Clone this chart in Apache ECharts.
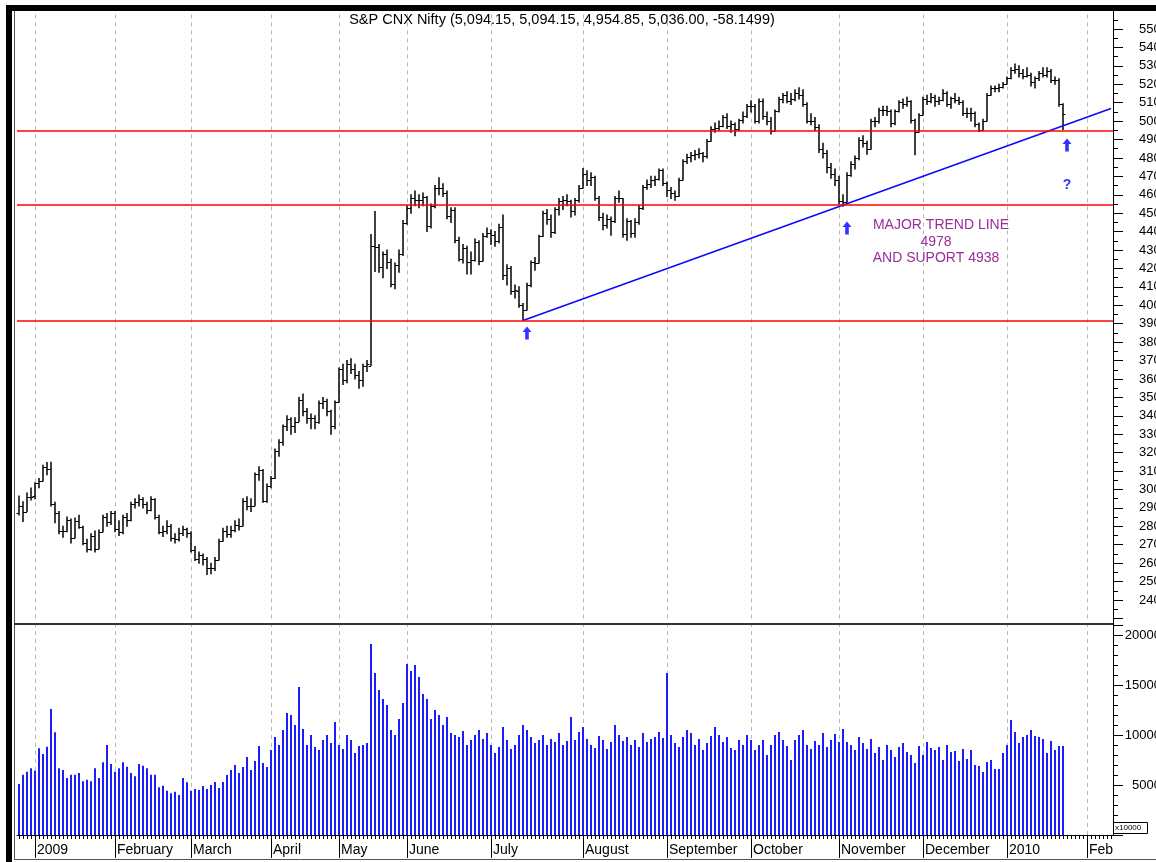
<!DOCTYPE html>
<html><head><meta charset="utf-8">
<script src="https://cdn.jsdelivr.net/npm/echarts@6/dist/echarts.min.js"></script>
<style>html,body{margin:0;padding:0;background:#fff}#c{width:1156px;height:862px}</style>
</head><body><div id="c"></div>
<script>
// ---- categories (trading-day slots per month) ----
const monthNames = ['', '2009', 'February', 'March', 'April', 'May', 'June', 'July', 'August', 'September', 'October', 'November', 'December', '2010', 'Feb'];
const monthSlots = [4, 20, 19, 20, 17, 17, 21, 23, 21, 21, 22, 21, 21, 20, 7];

// ---- price OHLC (one line per month) ----
const opens = [
 2870,2910,2880,2960,
 2963,3033,3046,3121,3112,2920,2873,2774,2774,2835,2736,2829,2796,2707,2678,2745,2678,2771,2849,2823,
 2874,2784,2767,2848,2836,2920,2934,2947,2919,2889,2948,2848,2770,2776,2803,2736,2733,2762,2785,
 2763,2674,2622,2645,2620,2573,2573,2617,2719,2777,2758,2779,2807,2802,2939,2909,2912,3082,3108,2940,
 3020,3060,3211,3256,3342,3384,3344,3369,3484,3428,3386,3387,3369,3471,3480,3424,3343,
 3474,3654,3593,3683,3655,3622,3592,3671,3673,4323,4318,4210,4276,4237,4117,4217,4277,
 4449,4529,4582,4573,4572,4586,4429,4539,4638,4637,4611,4485,4517,4356,4251,4313,4235,4247,4343,4241,4375,
 4390,4383,4350,4424,4165,4202,4078,4080,4004,3974,4111,4233,4231,4374,4502,4469,4398,4523,4568,4572,4564,4513,4571,
 4636,4711,4681,4694,4585,4481,4437,4471,4457,4580,4580,4388,4458,4394,4453,4528,4642,4659,4680,4688,4732,
 4662,4625,4608,4593,4680,4782,4805,4814,4819,4829,4808,4892,4958,4965,4976,5020,4972,4986,4959,5006,5030,
 5084,5083,5003,5108,5027,5002,4945,5054,5118,5143,5110,5120,5150,5142,5093,4998,5003,4970,4847,4826,4750,4711,
 4680,4564,4563,4710,4765,4797,4898,4881,4847,4998,5000,5058,5062,5054,4989,5053,5103,5092,5108,5005,4941,
 5032,5122,5108,5131,5108,5112,5153,5092,5125,5117,5106,5042,5042,5046,4987,4953,5000,5144,5179,5178,5187,
 5201,5232,5277,5281,5263,5245,5249,5210,5233,5259,5252,5274,5225,5221,5094.15
];
const highs = [
 2965,2934,2981,3008,
 3037,3060,3131,3147,3148,2930,2880,2800,2850,2840,2845,2860,2800,2730,2760,2775,2780,2860,2870,2880,
 2880,2830,2860,2870,2930,2950,2970,2955,2930,2960,2950,2860,2800,2830,2810,2760,2790,2800,2790,
 2770,2690,2660,2650,2630,2600,2630,2730,2790,2800,2800,2830,2840,2950,2960,2950,3090,3123,3108,3030,
 3070,3220,3270,3350,3400,3390,3390,3500,3518,3440,3410,3400,3480,3500,3490,3430,3480,
 3660,3680,3700,3710,3680,3640,3680,3700,4384,4509,4330,4290,4300,4250,4230,4300,4460,
 4540,4600,4620,4600,4610,4590,4550,4650,4693,4660,4620,4530,4530,4370,4330,4320,4290,4360,4350,4390,4420,
 4410,4400,4440,4490,4220,4210,4110,4100,4010,4120,4240,4260,4380,4510,4520,4490,4530,4580,4590,4600,4570,4580,4650,
 4743,4730,4720,4700,4590,4500,4490,4480,4590,4620,4580,4470,4460,4470,4540,4650,4680,4700,4700,4740,4740,
 4670,4640,4620,4690,4790,4820,4830,4840,4850,4830,4900,4970,4990,5000,5030,5040,5000,4990,5010,5050,5090,
 5110,5090,5120,5120,5050,5020,5060,5130,5150,5160,5150,5170,5181,5170,5100,5040,5020,4980,4880,4840,4770,4740,
 4700,4600,4720,4780,4810,4910,4920,4890,5010,5020,5070,5080,5080,5060,5060,5110,5120,5130,5110,5010,5040,
 5130,5140,5150,5140,5130,5170,5160,5130,5150,5130,5110,5070,5070,5050,4990,5010,5150,5190,5190,5200,5210,
 5240,5290,5310,5300,5280,5290,5260,5240,5270,5290,5290,5280,5240,5230,5094.15
];
const lows = [
 2862,2826,2880,2943,
 2950,3010,3046,3080,2910,2820,2760,2740,2770,2710,2736,2790,2700,2660,2670,2660,2678,2771,2800,2810,
 2770,2750,2760,2800,2830,2900,2910,2900,2870,2885,2840,2760,2745,2760,2720,2710,2720,2750,2740,
 2660,2615,2600,2590,2539,2543,2560,2617,2719,2740,2740,2770,2780,2802,2890,2880,2912,3050,2930,2930,
 3010,3060,3180,3240,3320,3300,3310,3369,3400,3360,3330,3330,3360,3440,3400,3300,3330,
 3474,3570,3580,3630,3600,3550,3560,3640,3673,4184,4180,4150,4200,4100,4090,4180,4270,
 4440,4500,4540,4530,4540,4400,4420,4530,4600,4590,4470,4450,4340,4240,4230,4170,4170,4240,4220,4240,4370,
 4330,4320,4340,4140,4110,4060,4040,3990,3918,3974,4100,4190,4230,4374,4440,4370,4390,4490,4520,4540,4480,4490,4560,
 4636,4650,4650,4570,4460,4410,4420,4380,4450,4560,4370,4353,4370,4370,4440,4520,4630,4640,4650,4680,4650,
 4590,4580,4570,4590,4680,4770,4780,4790,4800,4780,4800,4890,4940,4950,4970,4960,4940,4920,4950,4990,5020,
 5050,4990,4990,5010,4980,4930,4945,5050,5100,5100,5090,5110,5120,5080,4990,4980,4950,4830,4800,4720,4690,4650,
 4550,4538,4560,4700,4740,4790,4860,4820,4847,4970,4990,5030,5030,4970,4980,5050,5070,5080,4990,4817,4940,
 5032,5090,5100,5080,5090,5110,5080,5070,5100,5090,5030,5020,5000,4970,4943,4950,5000,5140,5160,5160,5180,
 5200,5230,5260,5240,5230,5240,5190,5180,5220,5240,5240,5210,5200,5080,4954.85
];
const closes = [
 2910,2880,2960,2959,
 3033,3046,3121,3112,2920,2873,2774,2774,2835,2736,2829,2796,2707,2678,2745,2678,2771,2849,2823,2874,
 2784,2767,2848,2836,2920,2934,2947,2919,2889,2948,2848,2770,2776,2803,2736,2733,2762,2785,2763,
 2674,2622,2645,2620,2573,2573,2617,2719,2777,2758,2779,2807,2802,2939,2909,2912,3082,3108,2940,3020,
 3060,3211,3256,3342,3384,3344,3369,3484,3428,3386,3387,3369,3471,3480,3424,3343,3474,
 3654,3593,3683,3655,3622,3592,3671,3680,4323,4318,4210,4276,4237,4117,4217,4277,4449,
 4529,4582,4573,4572,4586,4429,4539,4638,4637,4611,4485,4517,4356,4251,4313,4235,4247,4343,4241,4375,4390,
 4383,4350,4424,4165,4202,4078,4081,4004,3974,4111,4233,4231,4374,4502,4469,4398,4523,4568,4572,4564,4513,4571,4636,
 4711,4681,4694,4585,4481,4437,4471,4457,4580,4580,4388,4458,4394,4453,4528,4642,4659,4680,4688,4732,4662,
 4625,4608,4593,4680,4782,4805,4814,4819,4829,4808,4892,4958,4965,4976,5020,4972,4986,4959,5006,5030,5084,
 5083,5003,5108,5027,5002,4945,5054,5118,5143,5110,5120,5150,5142,5093,4998,5003,4970,4847,4826,4750,4711,4680,
 4564,4563,4710,4765,4797,4898,4881,4847,4998,5000,5058,5062,5054,4989,5053,5103,5092,5108,5005,4941,5032,
 5122,5108,5131,5108,5112,5153,5092,5125,5117,5106,5042,5042,5046,4987,4953,5000,5144,5179,5178,5187,5201,
 5232,5277,5281,5263,5245,5249,5210,5233,5259,5252,5274,5225,5221,5094,5036
];
// ---- volume (x10000) ----
const volumes = [
 5100,6030,6330,6670,
 6430,8670,8100,8830,12600,10270,6670,6500,5700,6030,6030,6200,5370,5530,5370,6670,5700,7270,9000,7100,
 6330,6670,7270,6830,6200,5870,7100,6930,6670,6030,6030,4770,4930,4430,4170,4330,4000,5700,5270,
 4430,4600,4500,4900,4600,5000,5300,4700,5300,6000,6500,7000,6200,6800,7800,6500,7400,8900,7200,6800,
 8500,9800,9000,10500,12200,12000,11000,14800,10600,9000,10000,8800,8500,9500,10000,9200,11300,
 9000,8600,10000,9500,8200,8900,9000,9200,19100,16200,14500,13600,13000,10500,10000,11600,13200,
 17100,16400,17000,15800,14100,13600,11600,12500,12000,11000,11800,10200,10000,9800,10400,9000,9500,10000,10500,9600,10200,
 9000,8200,8800,10800,9500,8600,9000,10000,11000,10500,9800,9200,9500,10000,9000,9600,9300,10200,9000,9400,11800,9500,10300,
 10800,9600,9000,8700,9900,9500,8600,9300,11000,10000,9400,9800,9000,9500,8800,10200,9300,9600,9800,10300,9700,
 16200,10000,9200,8800,9800,10500,10200,9000,9600,8500,9200,9900,10800,10000,9300,9800,8700,8500,9500,9000,10000,
 9500,8500,9000,9500,8000,9000,10000,10300,9500,8900,7500,9500,10000,10500,9000,8600,9400,9000,10200,8800,9500,10100,
 9300,10600,9300,9000,8500,9800,9200,8600,9600,8200,8800,7500,9000,8500,7800,8800,9200,8300,8000,7200,8900,
 8000,9300,8700,8500,8800,7500,9000,8300,8400,7400,8600,7600,8500,7000,6900,6300,7300,7500,6600,6600,8200,
 9000,11500,10300,9200,9800,10000,10500,9900,9800,9600,8200,9400,8500,8900,8900
];
// ---- annotation lines / marks ----
const supportLevels = [4950, 4545, 3915];
const trendLine = [[126, 3918], [273, 5068]];
const arrowPoints = [[127, 3850], [207, 4420], [262, 4870]];
const questionPoint = [[262, 4653]];
const titleText = 'S&P CNX Nifty (5,094.15, 5,094.15, 4,954.85, 5,036.00, -58.1499)';

// ---- build categories ----
const categories = [], labelFor = [], monthStarts = [];
monthNames.forEach((m, k) => {
  for (let j = 0; j < monthSlots[k]; j++) {
    const idx = categories.length;
    categories.push((m || 'Dec 2008') + ' #' + (j + 1));
    labelFor.push(j === 0 ? m : '');
    if (j === 0 && k > 0) monthStarts.push(idx);
  }
});
const startSet = new Set(monthStarts);
const ohlc = closes.map((c, i) => [i, opens[i], highs[i], lows[i], c]);

const FONT = '"Liberation Sans", Arial, sans-serif';
const dashedLines = {
  silent: true, z: 1, symbol: ['none', 'none'], label: { show: false }, animation: false,
  lineStyle: { color: '#b8b8b8', type: [4, 4], width: 1 },
  data: monthStarts.map(i => ({ xAxis: i }))
};
const arrowPath = 'path://M5 0 L10 6 L7 6 L7 14 L3 14 L3 6 L0 6 Z';

const chart = echarts.init(document.getElementById('c'), null, { renderer: 'canvas' });
chart.setOption({
  animation: false,
  backgroundColor: '#ffffff',
  textStyle: { fontFamily: FONT },
  grid: [
    { left: 17, right: 43, top: 10.6, bottom: 243.6, containLabel: false, outerBoundsMode: 'none' },
    { left: 17, right: 43, top: 625, bottom: 27, containLabel: false, outerBoundsMode: 'none' }
  ],
  xAxis: [
    { type: 'category', gridIndex: 0, position: 'bottom', data: categories, axisLine: { show: false }, axisTick: { show: false }, axisLabel: { show: false }, splitLine: { show: false } },
    { type: 'category', gridIndex: 1, position: 'bottom', offset: 0, data: categories, axisLine: { show: true, lineStyle: { color: '#000', width: 1 } },
      axisTick: { show: true, interval: 0, alignWithLabel: true, length: 4, lineStyle: { color: '#000' } }, axisLabel: { show: false }, splitLine: { show: false } },
    { type: 'category', gridIndex: 1, position: 'bottom', offset: 0, data: categories, axisLine: { show: false },
      axisTick: { show: true, alignWithLabel: true, interval: (i) => startSet.has(i), length: 23, lineStyle: { color: '#000' } },
      axisLabel: { show: true, interval: (i) => startSet.has(i), formatter: (v, i) => labelFor[i], align: 'left', margin: 8,
        padding: [0, 0, 0, 2], fontSize: 14, color: '#000', fontFamily: FONT },
      splitLine: { show: false } }
  ],
  yAxis: [
    { type: 'value', gridIndex: 0, position: 'right', min: 2300, max: 5600, interval: 100,
      axisLine: { show: true, lineStyle: { color: '#000' } },
      axisTick: { show: true, length: 10, lineStyle: { color: '#000' } },
      minorTick: { show: true, splitNumber: 2, length: 5, lineStyle: { color: '#000' } },
      splitLine: { show: false },
      axisLabel: { margin: 26, fontSize: 13, color: '#000', fontFamily: FONT, formatter: v => (v <= 2300 || v >= 5600) ? '' : String(v) } },
    { type: 'value', gridIndex: 1, position: 'right', min: 0, max: 21000, interval: 5000,
      axisLine: { show: true, lineStyle: { color: '#000' } },
      axisTick: { show: true, length: 10, lineStyle: { color: '#000' } },
      minorTick: { show: true, splitNumber: 5, length: 5, lineStyle: { color: '#000' } },
      splitLine: { show: false },
      axisLabel: { margin: 48, align: 'right', fontSize: 13, color: '#000', fontFamily: FONT, formatter: v => (v === 0 || v > 20000) ? '' : String(v) } }
  ],
  series: [
    { type: 'line', xAxisIndex: 0, yAxisIndex: 0, data: categories.map(() => null), showSymbol: false, silent: true, z: 1, markLine: dashedLines },
    { type: 'custom', xAxisIndex: 0, yAxisIndex: 0, z: 3, data: ohlc, encode: { x: 0, y: [1, 2, 3, 4] },
      renderItem: function (params, api) {
        const x = api.value(0);
        const o = api.coord([x, api.value(1)]);
        const h = api.coord([x, api.value(2)]);
        const l = api.coord([x, api.value(3)]);
        const c = api.coord([x, api.value(4)]);
        const px = Math.round(o[0]);
        const st = { stroke: '#000', lineWidth: 1.5 };
        return { type: 'group', children: [
          { type: 'line', shape: { x1: px, y1: h[1] - 0.5, x2: px, y2: l[1] + 0.5 }, style: st },
          { type: 'line', shape: { x1: px - 2.5, y1: Math.round(o[1]) + 0.5, x2: px, y2: Math.round(o[1]) + 0.5 }, style: { stroke: '#000', lineWidth: 1 } },
          { type: 'line', shape: { x1: px, y1: Math.round(c[1]) + 0.5, x2: px + 2.5, y2: Math.round(c[1]) + 0.5 }, style: { stroke: '#000', lineWidth: 1 } }
        ] };
      } },
    { type: 'line', xAxisIndex: 0, yAxisIndex: 0, data: trendLine, showSymbol: false, symbol: 'none', silent: true, z: 4,
      lineStyle: { color: '#0a0aff', width: 1.6 },
      markLine: { silent: true, z: 5, symbol: ['none', 'none'], label: { show: false }, animation: false,
        lineStyle: { color: '#ff0000', type: 'solid', width: 1.6 },
        data: supportLevels.map(v => ({ yAxis: v })) } },
    { type: 'scatter', xAxisIndex: 0, yAxisIndex: 0, data: arrowPoints, symbol: arrowPath, symbolSize: [9, 13], z: 6, silent: true,
      itemStyle: { color: '#0000ff' } },
    { type: 'scatter', xAxisIndex: 0, yAxisIndex: 0, data: questionPoint, symbol: 'rect', symbolSize: 1, z: 6, silent: true,
      itemStyle: { color: 'rgba(0,0,0,0)' },
      label: { show: true, position: 'inside', formatter: '?', color: '#0000ff', fontWeight: 'bold', fontSize: 14, fontFamily: FONT } },
    { type: 'bar', xAxisIndex: 1, yAxisIndex: 1, data: volumes, barWidth: 2, z: 3, silent: true,
      itemStyle: { color: '#1c1cff' }, markLine: dashedLines }
  ],
  graphic: [
    { type: 'rect', z: 100, shape: { x: 6, y: 5, width: 1150, height: 6 }, style: { fill: '#000' } },
    { type: 'rect', z: 100, shape: { x: 6, y: 5, width: 6, height: 857 }, style: { fill: '#000' } },
    { type: 'line', z: 100, shape: { x1: 14.5, y1: 11, x2: 14.5, y2: 859 }, style: { stroke: '#555', lineWidth: 1 } },
    { type: 'line', z: 100, shape: { x1: 14, y1: 859.5, x2: 1156, y2: 859.5 }, style: { stroke: '#555', lineWidth: 1 } },
    { type: 'line', z: 100, shape: { x1: 14, y1: 624, x2: 1113, y2: 624 }, style: { stroke: '#333', lineWidth: 2 } },
    { type: 'line', z: 100, shape: { x1: 1113.5, y1: 615, x2: 1113.5, y2: 630 }, style: { stroke: '#000', lineWidth: 1 } },
    { type: 'rect', z: 100, shape: { x: 1113.5, y: 822.5, width: 34, height: 11 }, style: { fill: '#fff', stroke: '#000', lineWidth: 1 } },
    { type: 'text', z: 101, x: 1115, y: 824, style: { text: 'x10000', fontSize: 8, fill: '#000', fontFamily: FONT } },
    { type: 'text', z: 100, x: 562, y: 20, style: { text: titleText, fontSize: 14.5, fill: '#000', fontFamily: FONT, textAlign: 'center', textVerticalAlign: 'middle' } },
    { type: 'text', z: 100, x: 941, y: 225, style: { text: 'MAJOR TREND LINE', fontSize: 14, fill: '#9b2d9b', fontFamily: FONT, textAlign: 'center', textVerticalAlign: 'middle' } },
    { type: 'text', z: 100, x: 936, y: 242, style: { text: '4978', fontSize: 14, fill: '#9b2d9b', fontFamily: FONT, textAlign: 'center', textVerticalAlign: 'middle' } },
    { type: 'text', z: 100, x: 936, y: 258, style: { text: 'AND SUPORT 4938', fontSize: 14, fill: '#9b2d9b', fontFamily: FONT, textAlign: 'center', textVerticalAlign: 'middle' } }
  ]
});
</script></body></html>
